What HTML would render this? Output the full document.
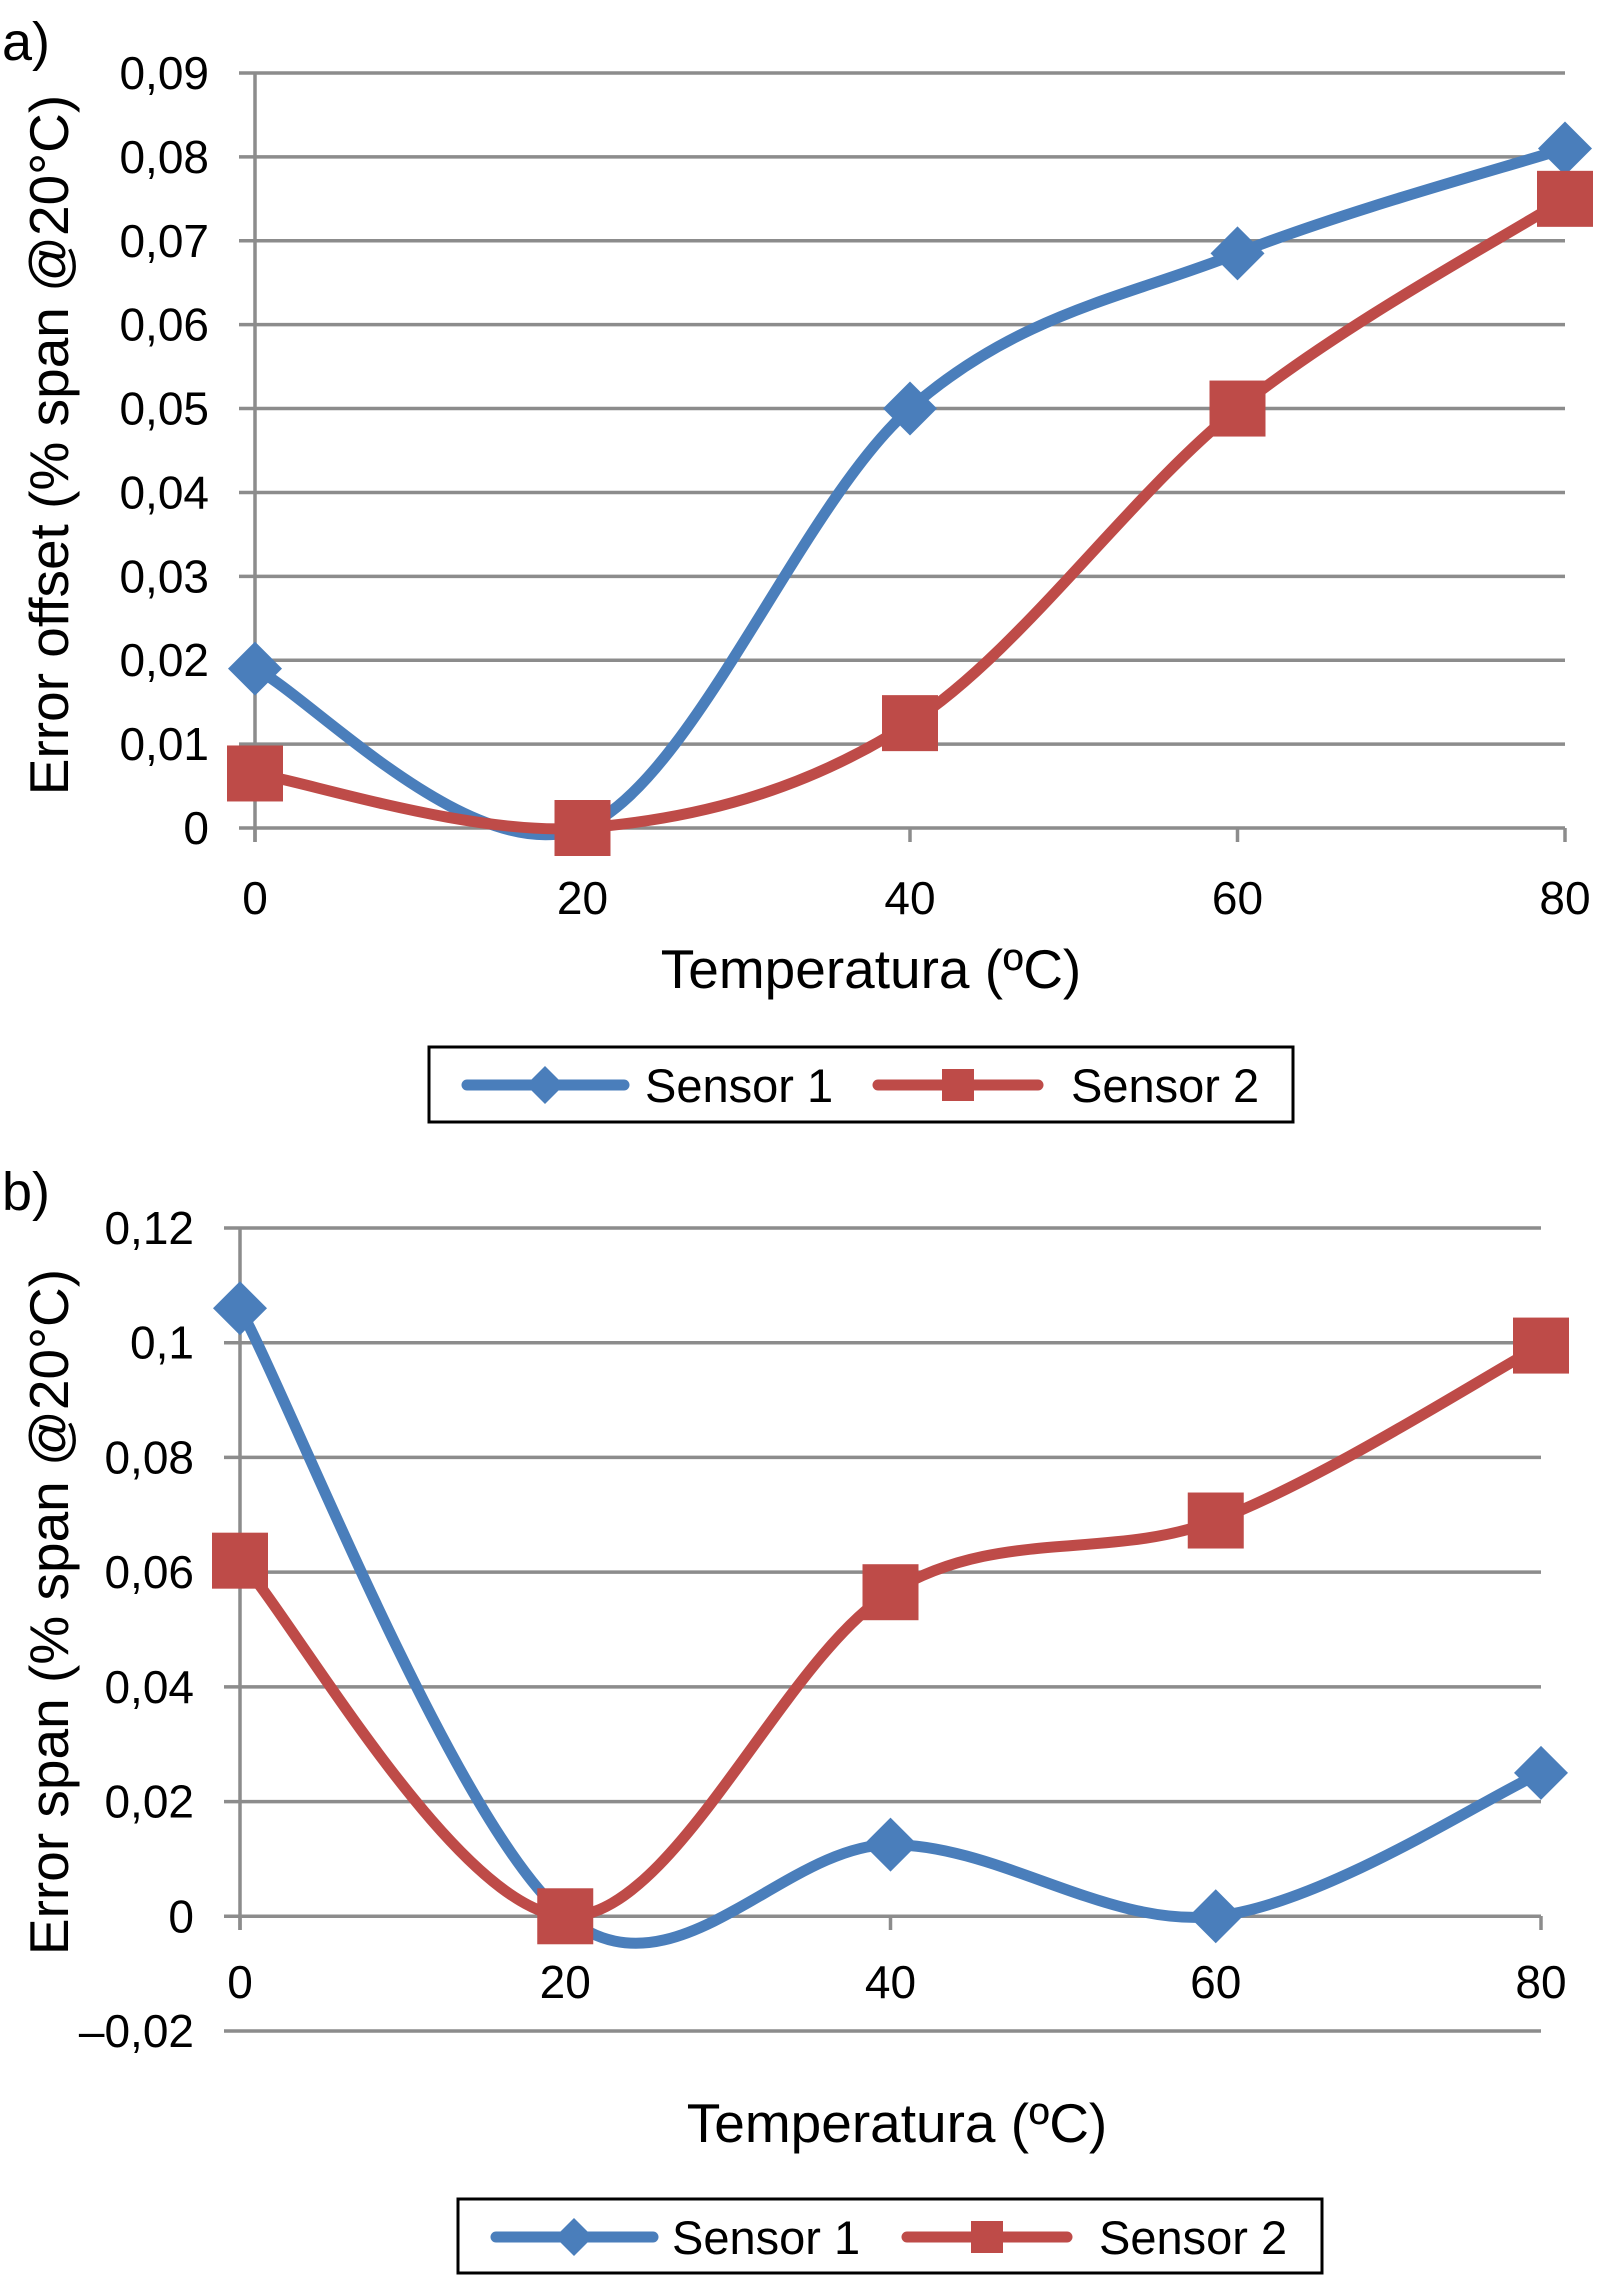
<!DOCTYPE html>
<html><head><meta charset="utf-8"><style>
html,body{margin:0;padding:0;background:#fff;}
svg{display:block;font-family:"Liberation Sans",sans-serif;}
</style></head><body>
<svg id="fig" width="1601" height="2277" viewBox="0 0 1601 2277" xmlns="http://www.w3.org/2000/svg">
<rect width="1601" height="2277" fill="#fff"/>
<text x="2" y="60" font-size="54">a)</text>
<text x="2" y="1210" font-size="54">b)</text>
<g id="chartA"></g>
<g id="chartB"></g>
<text transform="translate(68,445) rotate(-90)" text-anchor="middle" font-size="55">Error offset (% span @20°C)</text>
<text transform="translate(68,1612) rotate(-90)" text-anchor="middle" font-size="55">Error span (% span @20°C)</text>
<text x="871" y="988" text-anchor="middle" font-size="55">Temperatura (ºC)</text>
<text x="897" y="2142" text-anchor="middle" font-size="55">Temperatura (ºC)</text>
<g>
<rect x="429" y="1047" width="864" height="75" fill="#fff" stroke="#000" stroke-width="3"/>
<g>
<line x1="467" y1="1085" x2="624" y2="1085" stroke="#4a7ebb" stroke-width="11" stroke-linecap="round"/>
<polygon points="545,1066 564,1085 545,1104 526,1085" fill="#4a7ebb"/>
<text x="645" y="1102" font-size="47">Sensor 1</text></g>
<g>
<line x1="878" y1="1085" x2="1038" y2="1085" stroke="#be4b48" stroke-width="11" stroke-linecap="round"/>
<rect x="942" y="1069" width="32" height="32" fill="#be4b48"/>
<text x="1071" y="1102" font-size="47">Sensor 2</text></g>
</g>
<g>
<rect x="458" y="2199" width="864" height="74" fill="#fff" stroke="#000" stroke-width="3"/>
<g>
<line x1="496" y1="2237" x2="653" y2="2237" stroke="#4a7ebb" stroke-width="11" stroke-linecap="round"/>
<polygon points="574,2218 593,2237 574,2256 555,2237" fill="#4a7ebb"/>
<text x="672" y="2254" font-size="47">Sensor 1</text></g>
<g>
<line x1="907" y1="2237" x2="1067" y2="2237" stroke="#be4b48" stroke-width="11" stroke-linecap="round"/>
<rect x="971" y="2221" width="32" height="32" fill="#be4b48"/>
<text x="1099" y="2254" font-size="47">Sensor 2</text></g>
</g>
</svg>
<script>
const categories = [0, 20, 40, 60, 80];
const offsetSensor1 = [0.019, 0, 0.050, 0.0685, 0.081];
const offsetSensor2 = [0.0065, 0, 0.0125, 0.050, 0.075];
const spanSensor1 = [0.106, 0, 0.0125, 0, 0.025];
const spanSensor2 = [0.062, 0, 0.0565, 0.069, 0.0995];
const yTicksA = [0, 0.01, 0.02, 0.03, 0.04, 0.05, 0.06, 0.07, 0.08, 0.09];
const yTickLabelsA = ["0","0,01","0,02","0,03","0,04","0,05","0,06","0,07","0,08","0,09"];
const yTicksB = [-0.02, 0, 0.02, 0.04, 0.06, 0.08, 0.1, 0.12];
const yTickLabelsB = ["\u20130,02","0","0,02","0,04","0,06","0,08","0,1","0,12"];
const xTickLabels = ["0","20","40","60","80"];

const NS = "http://www.w3.org/2000/svg";
function mk(tag, attrs, parent){const e=document.createElementNS(NS,tag);for(const k in attrs)e.setAttribute(k,attrs[k]);parent.appendChild(e);return e;}

function smoothPath(pts){
  let d = "M"+pts[0][0]+","+pts[0][1];
  for(let i=0;i<pts.length-1;i++){
    const p0=pts[Math.max(i-1,0)],p1=pts[i],p2=pts[i+1],p3=pts[Math.min(i+2,pts.length-1)];
    const t=1/6;
    const c1=[p1[0]+(p2[0]-p0[0])*t,p1[1]+(p2[1]-p0[1])*t];
    const c2=[p2[0]-(p3[0]-p1[0])*t,p2[1]-(p3[1]-p1[1])*t];
    d+=" C"+c1[0]+","+c1[1]+" "+c2[0]+","+c2[1]+" "+p2[0]+","+p2[1];
  }
  return d;
}
const geomPad = 46;

function drawChart(g, cfg, yTicks, yLabels, s1, s2){
  const xs = v => cfg.x0 + (v - categories[0])/(categories[categories.length-1]-categories[0])*(cfg.x1-cfg.x0);
  const ys = v => cfg.yBottom - (v - cfg.yMin)/(cfg.yMax-cfg.yMin)*(cfg.yBottom-cfg.yTop);
  yTicks.forEach((t,i)=>{
    const y=ys(t);
    const gl=mk("line",{x1:cfg.x0-16,x2:cfg.x1,y1:y,y2:y,stroke:"#8c8c8c","stroke-width":3.5},g);
    
    
    const tl=mk("text",{x:cfg.x0-geomPad,y:y+16,"text-anchor":"end","font-size":46},g);
    tl.textContent=yLabels[i];
    
    
  });
  const ax=mk("line",{x1:cfg.x0,x2:cfg.x0,y1:ys(cfg.yMax),y2:cfg.xAxisY+14,stroke:"#8c8c8c","stroke-width":3.5},g);
  
  
  categories.forEach((c,i)=>{
    const x=xs(c);
    const tk=mk("line",{x1:x,x2:x,y1:cfg.xAxisY,y2:cfg.xAxisY+14,stroke:"#8c8c8c","stroke-width":3.5},g);
    
    
    const tl=mk("text",{x:x,y:cfg.xLabelY,"text-anchor":"middle","font-size":46},g);
    tl.textContent=xTickLabels[i];
    
    
  });
  [[s1,"#4a7ebb","diamond","sensor-1"],[s2,"#be4b48","square","sensor-2"]].forEach(([vals,col,shape,nm])=>{
    const pts=vals.map((v,i)=>[xs(categories[i]),ys(v)]);
    const p=mk("path",{d:smoothPath(pts),fill:"none",stroke:col,"stroke-width":11,"stroke-linejoin":"round","stroke-linecap":"round"},g);
    
    
    pts.forEach(([x,y])=>{
      let m;
      if(shape==="diamond") m=mk("polygon",{points:`${x},${y-27} ${x+27},${y} ${x},${y+27} ${x-27},${y}`,fill:col},g);
      else m=mk("rect",{x:x-28,y:y-28,width:56,height:56,fill:col},g);
      
      
    });
  });
}

drawChart(document.getElementById("chartA"),
  {x0:255,x1:1565,yTop:73,yBottom:828,yMin:0,yMax:0.09,xAxisY:828,xLabelY:914},
  yTicksA,yTickLabelsA,offsetSensor1,offsetSensor2);
drawChart(document.getElementById("chartB"),
  {x0:240,x1:1541,yTop:1228,yBottom:2031,yMin:-0.02,yMax:0.12,xAxisY:1916,xLabelY:1998},
  yTicksB,yTickLabelsB,spanSensor1,spanSensor2);
</script>
</body></html>
